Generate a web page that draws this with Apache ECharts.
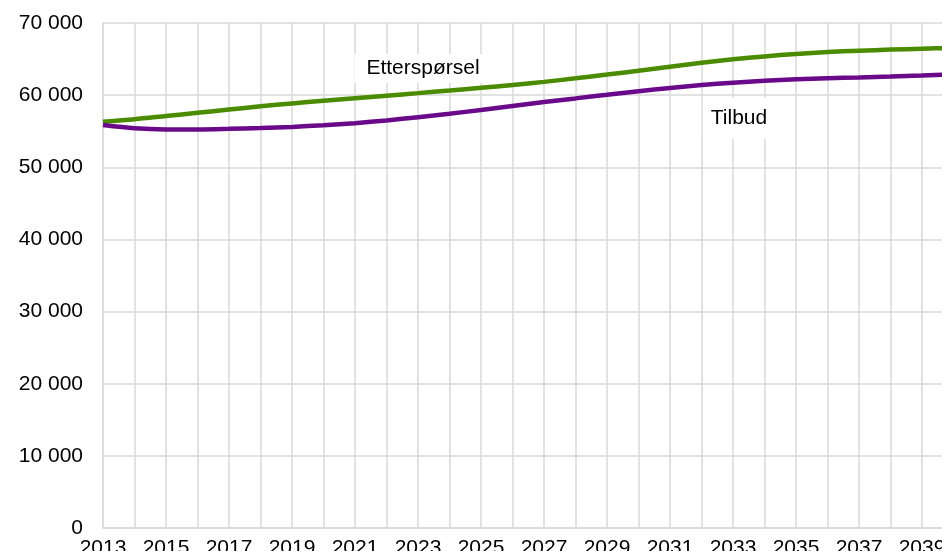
<!DOCTYPE html>
<html>
<head>
<meta charset="utf-8">
<script src="https://cdn.jsdelivr.net/npm/echarts@6/dist/echarts.min.js"></script>
<style>
html,body{margin:0;padding:0;background:#fff;}
#c{width:942px;height:551px;}
</style>
</head>
<body>
<div id="c"></div>
<script>
var years = ['2013','2014','2015','2016','2017','2018','2019','2020','2021','2022','2023','2024','2025','2026','2027','2028','2029','2030','2031','2032','2033','2034','2035','2036','2037','2038','2039','2040'];
var ettersporsel = [56300,56650,57100,57550,58000,58450,58850,59220,59580,59930,60280,60640,61010,61400,61840,62330,62850,63390,63940,64480,64960,65370,65710,65970,66160,66310,66440,66560];
var tilbud = [55850,55400,55250,55250,55330,55450,55600,55830,56120,56500,56950,57420,57950,58500,59050,59550,60050,60550,61000,61400,61720,61980,62200,62350,62460,62580,62730,62900];
var seriesNames = ['Etterspørsel','Tilbud'];
var labelAnchors = [['2023', 63700], ['2033', 56800]];

var font = "'Liberation Sans', Arial, sans-serif";
var gridColor = '#d9d9d9';

function fmt(v){ return String(v).replace(/\B(?=(\d{3})+(?!\d))/g, ' '); }

function labelPoint(name, anchor, offset, padding){
  return {
    symbol: 'rect', symbolSize: 1,
    itemStyle: {color: 'rgba(0,0,0,0)'},
    label: {
      show: true, position: 'inside', offset: offset,
      formatter: name, color: '#000', fontSize: 21, fontFamily: font,
      backgroundColor: '#fff', padding: padding
    },
    data: [{coord: anchor}]
  };
}

var chart = echarts.init(document.getElementById('c'));
chart.setOption({
  animation: false,
  backgroundColor: '#fff',
  grid: {left: 103, right: -11.5, top: 23, bottom: 23, containLabel: false, outerBoundsMode: 'none'},
  xAxis: {
    type: 'category', data: years, boundaryGap: false,
    axisLine: {show: true, lineStyle: {color: gridColor, width: 1.5}},
    axisTick: {show: false},
    axisLabel: {interval: 1, color: '#000', fontSize: 21, fontFamily: font, margin: 10},
    splitLine: {show: true, interval: 0, lineStyle: {color: gridColor, width: 1.5}}
  },
  yAxis: {
    type: 'value', min: 0, max: 70000, interval: 10000,
    axisLine: {show: true, lineStyle: {color: gridColor, width: 1.5}},
    axisTick: {show: false},
    axisLabel: {color: '#000', fontSize: 21, fontFamily: font, margin: 20, formatter: fmt},
    splitLine: {show: true, lineStyle: {color: gridColor, width: 1.5}}
  },
  series: [
    {
      name: seriesNames[0], type: 'line', data: ettersporsel, smooth: 0.3,
      symbol: 'none', lineStyle: {color: '#4B8B00', width: 4.5}, itemStyle: {color: '#4B8B00'},
      markPoint: labelPoint(seriesNames[0], labelAnchors[0], [5, 0], [4, 12])
    },
    {
      name: seriesNames[1], type: 'line', data: tilbud, smooth: 0.3,
      symbol: 'none', lineStyle: {color: '#6A0A8A', width: 4.5}, itemStyle: {color: '#6A0A8A'},
      markPoint: labelPoint(seriesNames[1], labelAnchors[1], [6, 0], [10, 8])
    }
  ]
});
</script>
</body>
</html>
